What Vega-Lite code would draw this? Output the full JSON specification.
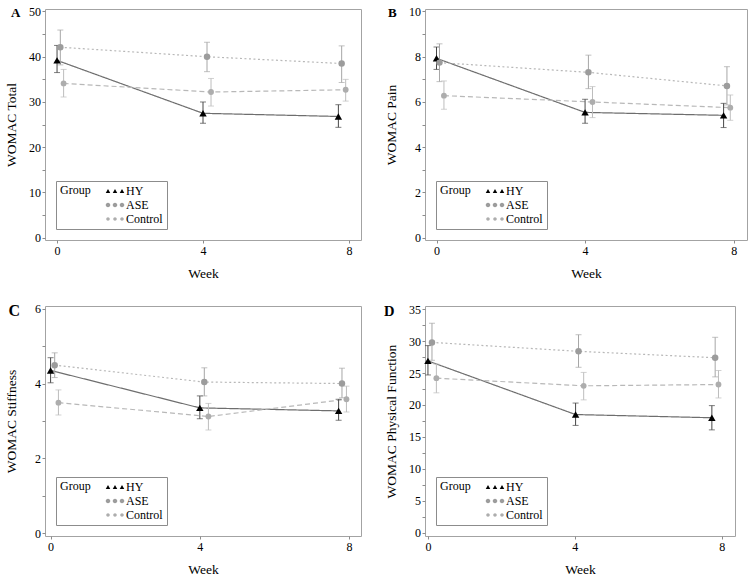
{
  "$schema": "https://vega.github.io/schema/vega-lite/v6.json",
  "background": "white",
  "padding": {"left": 3, "top": 4, "right": 2, "bottom": 2},
  "config": {
    "font": "Liberation Serif",
    "view": {"stroke": "#a3a3a3", "strokeWidth": 1},
    "axis": {"labelFont": "Liberation Serif", "labelFontSize": 12, "labelColor": "#000000", "titleFont": "Liberation Serif", "titleFontSize": 13.5, "titleFontWeight": "normal", "titleColor": "#000000", "tickColor": "#8c8c8c", "tickSize": 3, "domain": false, "grid": false},
    "axisX": {"labelPadding": 2, "titlePadding": 10},
    "axisY": {"labelPadding": 1.5, "titlePadding": 10.5},
    "legend": {"orient": "bottom-left", "offset": 11, "titleOrient": "left", "titleAnchor": "start", "titleFont": "Liberation Serif", "titleFontWeight": "normal", "titleFontSize": 12, "titleColor": "#000000", "titlePadding": 13, "labelFont": "Liberation Serif", "labelFontSize": 12, "labelColor": "#000000", "labelOffset": 10, "padding": 4, "strokeColor": "#8c8c8c", "fillColor": "#ffffff", "rowPadding": 2, "symbolSize": 100, "symbolStrokeWidth": 0, "symbolOpacity": 1},
    "title": {"font": "Liberation Serif", "fontWeight": "bold", "fontSize": 13, "anchor": "start", "frame": "bounds", "offset": -15, "baseline": "alphabetic", "color": "#000000"}
  },
  "data": {"values": [
    {"p": "A", "g": "HY", "w": 0, "m": 39.2, "lo": 36.5, "hi": 42.5},
    {"p": "A", "g": "HY", "w": 4.0, "m": 27.5, "lo": 25.3, "hi": 30.0},
    {"p": "A", "g": "HY", "w": 7.71, "m": 26.8, "lo": 24.4, "hi": 29.4},
    {"p": "A", "g": "ASE", "w": 0.09, "m": 42.1, "lo": 38.2, "hi": 45.9},
    {"p": "A", "g": "ASE", "w": 4.11, "m": 40.0, "lo": 36.7, "hi": 43.2},
    {"p": "A", "g": "ASE", "w": 7.8, "m": 38.5, "lo": 34.3, "hi": 42.4},
    {"p": "A", "g": "Control", "w": 0.18, "m": 34.1, "lo": 31.1, "hi": 37.2},
    {"p": "A", "g": "Control", "w": 4.22, "m": 32.2, "lo": 29.1, "hi": 35.2},
    {"p": "A", "g": "Control", "w": 7.91, "m": 32.7, "lo": 30.2, "hi": 35.0},
    {"p": "B", "g": "HY", "w": 0, "m": 7.93, "lo": 7.44, "hi": 8.43},
    {"p": "B", "g": "HY", "w": 4.0, "m": 5.54, "lo": 5.06, "hi": 6.12},
    {"p": "B", "g": "HY", "w": 7.73, "m": 5.41, "lo": 4.87, "hi": 5.94},
    {"p": "B", "g": "ASE", "w": 0.08, "m": 7.74, "lo": 6.9, "hi": 8.57},
    {"p": "B", "g": "ASE", "w": 4.09, "m": 7.31, "lo": 6.59, "hi": 8.07},
    {"p": "B", "g": "ASE", "w": 7.82, "m": 6.71, "lo": 5.87, "hi": 7.56},
    {"p": "B", "g": "Control", "w": 0.2, "m": 6.28, "lo": 5.68, "hi": 6.93},
    {"p": "B", "g": "Control", "w": 4.2, "m": 6.0, "lo": 5.31, "hi": 6.68},
    {"p": "B", "g": "Control", "w": 7.91, "m": 5.75, "lo": 5.19, "hi": 6.31},
    {"p": "C", "g": "HY", "w": 0, "m": 4.35, "lo": 4.02, "hi": 4.69},
    {"p": "C", "g": "HY", "w": 4.0, "m": 3.35, "lo": 3.06, "hi": 3.67},
    {"p": "C", "g": "HY", "w": 7.72, "m": 3.27, "lo": 3.02, "hi": 3.58},
    {"p": "C", "g": "ASE", "w": 0.11, "m": 4.49, "lo": 4.16, "hi": 4.82},
    {"p": "C", "g": "ASE", "w": 4.12, "m": 4.04, "lo": 3.67, "hi": 4.42},
    {"p": "C", "g": "ASE", "w": 7.81, "m": 4.0, "lo": 3.62, "hi": 4.41},
    {"p": "C", "g": "Control", "w": 0.21, "m": 3.49, "lo": 3.16, "hi": 3.83},
    {"p": "C", "g": "Control", "w": 4.23, "m": 3.12, "lo": 2.76, "hi": 3.47},
    {"p": "C", "g": "Control", "w": 7.93, "m": 3.58, "lo": 3.24, "hi": 3.93},
    {"p": "D", "g": "HY", "w": 0, "m": 26.9, "lo": 24.7, "hi": 29.3},
    {"p": "D", "g": "HY", "w": 4.02, "m": 18.5, "lo": 16.8, "hi": 20.3},
    {"p": "D", "g": "HY", "w": 7.73, "m": 18.0, "lo": 16.1, "hi": 19.9},
    {"p": "D", "g": "ASE", "w": 0.11, "m": 29.8, "lo": 27.0, "hi": 32.8},
    {"p": "D", "g": "ASE", "w": 4.1, "m": 28.4, "lo": 25.9, "hi": 31.0},
    {"p": "D", "g": "ASE", "w": 7.82, "m": 27.4, "lo": 24.4, "hi": 30.6},
    {"p": "D", "g": "Control", "w": 0.23, "m": 24.2, "lo": 21.9, "hi": 26.4},
    {"p": "D", "g": "Control", "w": 4.24, "m": 23.0, "lo": 20.8, "hi": 25.1},
    {"p": "D", "g": "Control", "w": 7.91, "m": 23.2, "lo": 21.1, "hi": 25.4}
  ]},
  "resolve": {"scale": {"color": "independent"}, "legend": {"color": "independent"}},
  "columns": 2,
  "align": "each",
  "spacing": {"row": 22, "column": 21},
  "concat": [
    {
      "width": 316, "height": 231,
      "title": {"text": "A", "dx": 7},
      "transform": [{"filter": "datum.p === 'A'"}],
      "encoding": {
        "x": {"field": "w", "type": "quantitative", "scale": {"domain": [-0.33, 8.33], "nice": false, "zero": false}, "axis": {"values": [0, 4, 8], "title": "Week"}},
        "y": {"field": "m", "type": "quantitative", "scale": {"domain": [-0.5, 50.55], "nice": false, "zero": false}, "axis": {"values": [0, 5, 10, 15, 20, 25, 30, 35, 40, 45, 50], "labelExpr": "datum.value % 10 === 0 ? datum.label : ''", "title": "WOMAC Total"}}
      },
      "layer": [
        {"mark": {"type": "line", "strokeWidth": 1.2},
         "encoding": {
           "detail": {"field": "g", "type": "nominal"},
           "color": {"condition": {"test": "datum.g === 'HY'", "value": "#6e6e6e"}, "value": "#b8b8b8"},
           "strokeDash": {"field": "g", "type": "nominal", "scale": {"domain": ["HY", "ASE", "Control"], "range": [[1, 0], [2, 2.5], [5, 3]]}, "legend": null}}},
        {"mark": {"type": "errorbar", "ticks": {"size": 6}},
         "encoding": {
           "y": {"field": "lo", "type": "quantitative", "scale": {"domain": [-0.5, 50.55], "nice": false, "zero": false}, "axis": {"values": [0, 5, 10, 15, 20, 25, 30, 35, 40, 45, 50], "labelExpr": "datum.value % 10 === 0 ? datum.label : ''", "title": "WOMAC Total"}},
           "y2": {"field": "hi"},
           "color": {"condition": [{"test": "datum.g === 'HY'", "value": "#474747"}, {"test": "datum.g === 'ASE'", "value": "#a6a6a6"}], "value": "#bdbdbd"}}},
        {"mark": {"type": "point", "filled": true, "opacity": 1},
         "encoding": {
           "shape": {"field": "g", "type": "nominal", "scale": {"domain": ["HY", "ASE", "Control"], "range": ["triangle-up", "circle", "circle"]}, "legend": null},
           "size": {"condition": [{"test": "datum.g === 'HY'", "value": 55}, {"test": "datum.g === 'ASE'", "value": 42}], "value": 34},
           "color": {"field": "g", "type": "nominal", "scale": {"domain": ["HY", "ASE", "Control"], "range": ["#000000", "#9c9c9c", "#adadad"]},
             "legend": {"title": "Group", "labelExpr": "datum.label + '  '", "symbolType": {"expr": "datum.value === 'HY' ? 'M-0.85,0.4L-0.4,-0.4L0.05,0.4Z M0.55,0.4L1,-0.4L1.45,0.4Z M1.95,0.4L2.4,-0.4L2.85,0.4Z' : datum.value === 'ASE' ? 'M0.05,0A0.45,0.45,0,1,1,-0.85,0A0.45,0.45,0,1,1,0.05,0Z M1.45,0A0.45,0.45,0,1,1,0.55,0A0.45,0.45,0,1,1,1.45,0Z M2.85,0A0.45,0.45,0,1,1,1.95,0A0.45,0.45,0,1,1,2.85,0Z' : 'M-0.05,0A0.35,0.35,0,1,1,-0.75,0A0.35,0.35,0,1,1,-0.05,0Z M1.35,0A0.35,0.35,0,1,1,0.65,0A0.35,0.35,0,1,1,1.35,0Z M2.75,0A0.35,0.35,0,1,1,2.05,0A0.35,0.35,0,1,1,2.75,0Z'"}}}}}
      ]
    },
    {
      "width": 322, "height": 231,
      "title": {"text": "B", "dx": 4},
      "transform": [{"filter": "datum.p === 'B'"}],
      "encoding": {
        "x": {"field": "w", "type": "quantitative", "scale": {"domain": [-0.31, 8.36], "nice": false, "zero": false}, "axis": {"values": [0, 4, 8], "title": "Week"}},
        "y": {"field": "m", "type": "quantitative", "scale": {"domain": [-0.1, 10.11], "nice": false, "zero": false}, "axis": {"values": [0, 1, 2, 3, 4, 5, 6, 7, 8, 9, 10], "labelExpr": "datum.value % 2 === 0 ? datum.label : ''", "title": "WOMAC Pain"}}
      },
      "layer": [
        {"mark": {"type": "line", "strokeWidth": 1.2},
         "encoding": {
           "detail": {"field": "g", "type": "nominal"},
           "color": {"condition": {"test": "datum.g === 'HY'", "value": "#6e6e6e"}, "value": "#b8b8b8"},
           "strokeDash": {"field": "g", "type": "nominal", "scale": {"domain": ["HY", "ASE", "Control"], "range": [[1, 0], [2, 2.5], [5, 3]]}, "legend": null}}},
        {"mark": {"type": "errorbar", "ticks": {"size": 6}},
         "encoding": {
           "y": {"field": "lo", "type": "quantitative", "scale": {"domain": [-0.1, 10.11], "nice": false, "zero": false}, "axis": {"values": [0, 1, 2, 3, 4, 5, 6, 7, 8, 9, 10], "labelExpr": "datum.value % 2 === 0 ? datum.label : ''", "title": "WOMAC Pain"}},
           "y2": {"field": "hi"},
           "color": {"condition": [{"test": "datum.g === 'HY'", "value": "#474747"}, {"test": "datum.g === 'ASE'", "value": "#a6a6a6"}], "value": "#bdbdbd"}}},
        {"mark": {"type": "point", "filled": true, "opacity": 1},
         "encoding": {
           "shape": {"field": "g", "type": "nominal", "scale": {"domain": ["HY", "ASE", "Control"], "range": ["triangle-up", "circle", "circle"]}, "legend": null},
           "size": {"condition": [{"test": "datum.g === 'HY'", "value": 55}, {"test": "datum.g === 'ASE'", "value": 42}], "value": 34},
           "color": {"field": "g", "type": "nominal", "scale": {"domain": ["HY", "ASE", "Control"], "range": ["#000000", "#9c9c9c", "#adadad"]},
             "legend": {"title": "Group", "labelExpr": "datum.label + '  '", "symbolType": {"expr": "datum.value === 'HY' ? 'M-0.85,0.4L-0.4,-0.4L0.05,0.4Z M0.55,0.4L1,-0.4L1.45,0.4Z M1.95,0.4L2.4,-0.4L2.85,0.4Z' : datum.value === 'ASE' ? 'M0.05,0A0.45,0.45,0,1,1,-0.85,0A0.45,0.45,0,1,1,0.05,0Z M1.45,0A0.45,0.45,0,1,1,0.55,0A0.45,0.45,0,1,1,1.45,0Z M2.85,0A0.45,0.45,0,1,1,1.95,0A0.45,0.45,0,1,1,2.85,0Z' : 'M-0.05,0A0.35,0.35,0,1,1,-0.75,0A0.35,0.35,0,1,1,-0.05,0Z M1.35,0A0.35,0.35,0,1,1,0.65,0A0.35,0.35,0,1,1,1.35,0Z M2.75,0A0.35,0.35,0,1,1,2.05,0A0.35,0.35,0,1,1,2.75,0Z'"}}}}}
      ]
    },
    {
      "width": 316, "height": 230,
      "title": {"text": "C", "dx": 4, "fontSize": 16, "offset": -16},
      "transform": [{"filter": "datum.p === 'C'"}],
      "encoding": {
        "x": {"field": "w", "type": "quantitative", "scale": {"domain": [-0.15, 8.32], "nice": false, "zero": false}, "axis": {"values": [0, 4, 8], "title": "Week"}},
        "y": {"field": "m", "type": "quantitative", "scale": {"domain": [-0.07, 6.07], "nice": false, "zero": false}, "axis": {"values": [0, 1, 2, 3, 4, 5, 6], "labelExpr": "datum.value % 2 === 0 ? datum.label : ''", "title": "WOMAC Stiffness", "titlePadding": 16}}
      },
      "layer": [
        {"mark": {"type": "line", "strokeWidth": 1.2},
         "encoding": {
           "detail": {"field": "g", "type": "nominal"},
           "color": {"condition": {"test": "datum.g === 'HY'", "value": "#6e6e6e"}, "value": "#b8b8b8"},
           "strokeDash": {"field": "g", "type": "nominal", "scale": {"domain": ["HY", "ASE", "Control"], "range": [[1, 0], [2, 2.5], [5, 3]]}, "legend": null}}},
        {"mark": {"type": "errorbar", "ticks": {"size": 6}},
         "encoding": {
           "y": {"field": "lo", "type": "quantitative", "scale": {"domain": [-0.07, 6.07], "nice": false, "zero": false}, "axis": {"values": [0, 1, 2, 3, 4, 5, 6], "labelExpr": "datum.value % 2 === 0 ? datum.label : ''", "title": "WOMAC Stiffness", "titlePadding": 16}},
           "y2": {"field": "hi"},
           "color": {"condition": [{"test": "datum.g === 'HY'", "value": "#474747"}, {"test": "datum.g === 'ASE'", "value": "#a6a6a6"}], "value": "#bdbdbd"}}},
        {"mark": {"type": "point", "filled": true, "opacity": 1},
         "encoding": {
           "shape": {"field": "g", "type": "nominal", "scale": {"domain": ["HY", "ASE", "Control"], "range": ["triangle-up", "circle", "circle"]}, "legend": null},
           "size": {"condition": [{"test": "datum.g === 'HY'", "value": 55}, {"test": "datum.g === 'ASE'", "value": 42}], "value": 34},
           "color": {"field": "g", "type": "nominal", "scale": {"domain": ["HY", "ASE", "Control"], "range": ["#000000", "#9c9c9c", "#adadad"]},
             "legend": {"title": "Group", "labelExpr": "datum.label + '  '", "symbolType": {"expr": "datum.value === 'HY' ? 'M-0.85,0.4L-0.4,-0.4L0.05,0.4Z M0.55,0.4L1,-0.4L1.45,0.4Z M1.95,0.4L2.4,-0.4L2.85,0.4Z' : datum.value === 'ASE' ? 'M0.05,0A0.45,0.45,0,1,1,-0.85,0A0.45,0.45,0,1,1,0.05,0Z M1.45,0A0.45,0.45,0,1,1,0.55,0A0.45,0.45,0,1,1,1.45,0Z M2.85,0A0.45,0.45,0,1,1,1.95,0A0.45,0.45,0,1,1,2.85,0Z' : 'M-0.05,0A0.35,0.35,0,1,1,-0.75,0A0.35,0.35,0,1,1,-0.05,0Z M1.35,0A0.35,0.35,0,1,1,0.65,0A0.35,0.35,0,1,1,1.35,0Z M2.75,0A0.35,0.35,0,1,1,2.05,0A0.35,0.35,0,1,1,2.75,0Z'"}}}}}
      ]
    },
    {
      "width": 310, "height": 230,
      "title": {"text": "D", "dx": 0, "fontSize": 14.5, "offset": -16},
      "transform": [{"filter": "datum.p === 'D'"}],
      "encoding": {
        "x": {"field": "w", "type": "quantitative", "scale": {"domain": [-0.08, 8.36], "nice": false, "zero": false}, "axis": {"values": [0, 4, 8], "title": "Week"}},
        "y": {"field": "m", "type": "quantitative", "scale": {"domain": [-0.52, 35.5], "nice": false, "zero": false}, "axis": {"values": [0, 2.5, 5, 7.5, 10, 12.5, 15, 17.5, 20, 22.5, 25, 27.5, 30, 32.5, 35], "labelExpr": "datum.value % 5 === 0 ? datum.label : ''", "title": "WOMAC Physical Function"}}
      },
      "layer": [
        {"mark": {"type": "line", "strokeWidth": 1.2},
         "encoding": {
           "detail": {"field": "g", "type": "nominal"},
           "color": {"condition": {"test": "datum.g === 'HY'", "value": "#6e6e6e"}, "value": "#b8b8b8"},
           "strokeDash": {"field": "g", "type": "nominal", "scale": {"domain": ["HY", "ASE", "Control"], "range": [[1, 0], [2, 2.5], [5, 3]]}, "legend": null}}},
        {"mark": {"type": "errorbar", "ticks": {"size": 6}},
         "encoding": {
           "y": {"field": "lo", "type": "quantitative", "scale": {"domain": [-0.52, 35.5], "nice": false, "zero": false}, "axis": {"values": [0, 2.5, 5, 7.5, 10, 12.5, 15, 17.5, 20, 22.5, 25, 27.5, 30, 32.5, 35], "labelExpr": "datum.value % 5 === 0 ? datum.label : ''", "title": "WOMAC Physical Function"}},
           "y2": {"field": "hi"},
           "color": {"condition": [{"test": "datum.g === 'HY'", "value": "#474747"}, {"test": "datum.g === 'ASE'", "value": "#a6a6a6"}], "value": "#bdbdbd"}}},
        {"mark": {"type": "point", "filled": true, "opacity": 1},
         "encoding": {
           "shape": {"field": "g", "type": "nominal", "scale": {"domain": ["HY", "ASE", "Control"], "range": ["triangle-up", "circle", "circle"]}, "legend": null},
           "size": {"condition": [{"test": "datum.g === 'HY'", "value": 55}, {"test": "datum.g === 'ASE'", "value": 42}], "value": 34},
           "color": {"field": "g", "type": "nominal", "scale": {"domain": ["HY", "ASE", "Control"], "range": ["#000000", "#9c9c9c", "#adadad"]},
             "legend": {"title": "Group", "labelExpr": "datum.label + '  '", "symbolType": {"expr": "datum.value === 'HY' ? 'M-0.85,0.4L-0.4,-0.4L0.05,0.4Z M0.55,0.4L1,-0.4L1.45,0.4Z M1.95,0.4L2.4,-0.4L2.85,0.4Z' : datum.value === 'ASE' ? 'M0.05,0A0.45,0.45,0,1,1,-0.85,0A0.45,0.45,0,1,1,0.05,0Z M1.45,0A0.45,0.45,0,1,1,0.55,0A0.45,0.45,0,1,1,1.45,0Z M2.85,0A0.45,0.45,0,1,1,1.95,0A0.45,0.45,0,1,1,2.85,0Z' : 'M-0.05,0A0.35,0.35,0,1,1,-0.75,0A0.35,0.35,0,1,1,-0.05,0Z M1.35,0A0.35,0.35,0,1,1,0.65,0A0.35,0.35,0,1,1,1.35,0Z M2.75,0A0.35,0.35,0,1,1,2.05,0A0.35,0.35,0,1,1,2.75,0Z'"}}}}}
      ]
    }
  ]
}
